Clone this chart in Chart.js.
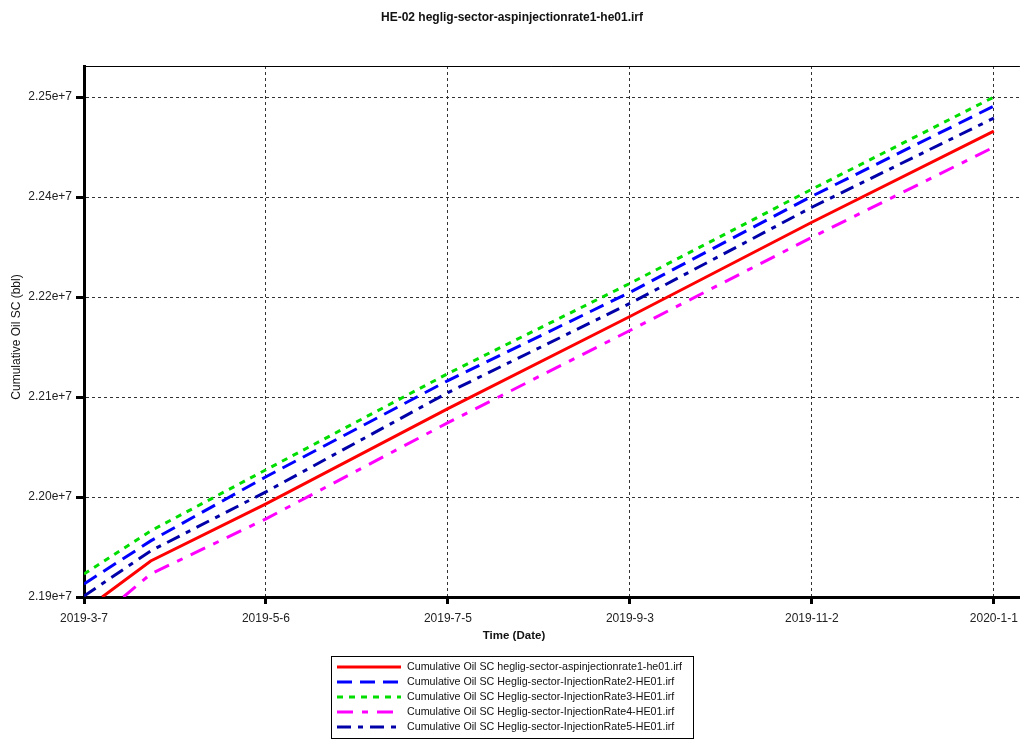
<!DOCTYPE html>
<html>
<head>
<meta charset="utf-8">
<script src="https://cdn.jsdelivr.net/npm/chart.js@4.4.1/dist/chart.umd.min.js"></script>
<style>
  html, body { margin: 0; padding: 0; background: #ffffff; }
  #wrap { width: 1025px; height: 740px; }
</style>
</head>
<body>
<div id="wrap"><canvas id="c" width="1025" height="740"></canvas></div>
<script>
// ---- data (x = days since 2019-3-7) ----
const chartTitle = 'HE-02 heglig-sector-aspinjectionrate1-he01.irf';
const xTitle = 'Time (Date)';
const yTitle = 'Cumulative Oil SC (bbl)';

const xTickDays = [0, 60, 120, 180, 240, 300];
const xTickLabels = ['2019-3-7', '2019-5-6', '2019-7-5', '2019-9-3', '2019-11-2', '2020-1-1'];

const yTickValues = [21900000, 22015000, 22130000, 22245000, 22360000, 22475000];
const yTickLabels = ['2.19e+7', '2.20e+7', '2.21e+7', '2.22e+7', '2.24e+7', '2.25e+7'];

const commonDays = [0, 22, 60, 120, 180, 240, 300];
const redDays = [6, 22, 60, 120, 180, 240, 300];
const magentaDays = [13, 22, 60, 120, 180, 240, 300];

const redValues     = [21900000, 21941480, 22007160, 22116630, 22222640, 22330960, 22435820];
const blueValues    = [21914980, 21964530, 22038280, 22148900, 22250300, 22360920, 22464630];
const greenValues   = [21926500, 21976050, 22046340, 22156960, 22260670, 22368990, 22475000];
const magentaValues = [21900000, 21926500, 21989880, 22100500, 22206510, 22313680, 22417380];
const navyValues    = [21901150, 21953010, 22020990, 22135070, 22237620, 22348250, 22450800];

const seriesLabels = [
  'Cumulative Oil SC heglig-sector-aspinjectionrate1-he01.irf',
  'Cumulative Oil SC Heglig-sector-InjectionRate2-HE01.irf',
  'Cumulative Oil SC Heglig-sector-InjectionRate3-HE01.irf',
  'Cumulative Oil SC Heglig-sector-InjectionRate4-HE01.irf',
  'Cumulative Oil SC Heglig-sector-InjectionRate5-HE01.irf'
];

function pts(days, vals) { return days.map((d, i) => ({ x: d, y: vals[i] })); }

const FONT = '"Liberation Sans", Arial, sans-serif';

const datasets = [
  { label: seriesLabels[0], data: pts(redDays, redValues), borderColor: '#ff0000', borderDash: [] },
  { label: seriesLabels[1], data: pts(commonDays, blueValues), borderColor: '#0000ff', borderDash: [15, 8] },
  { label: seriesLabels[2], data: pts(commonDays, greenValues), borderColor: '#00dd00', borderDash: [6, 6] },
  { label: seriesLabels[3], data: pts(magentaDays, magentaValues), borderColor: '#ff00ff', borderDash: [16, 9, 6, 9] },
  { label: seriesLabels[4], data: pts(commonDays, navyValues), borderColor: '#0000a8', borderDash: [14, 7, 5, 7] }
].map(d => Object.assign(d, { borderWidth: 3, pointRadius: 0, tension: 0, fill: false }));

const decor = {
  id: 'decor',
  afterDraw(chart) {
    const ctx = chart.ctx;
    const a = chart.chartArea;
    ctx.save();
    // thin frame top
    ctx.strokeStyle = '#000';
    ctx.lineWidth = 1;
    ctx.beginPath();
    ctx.moveTo(a.left, a.top + 0.5);
    ctx.lineTo(a.right, a.top + 0.5);
    ctx.stroke();
    // title
    ctx.fillStyle = '#111';
    ctx.font = 'bold 12px ' + FONT;
    ctx.textAlign = 'center';
    ctx.textBaseline = 'middle';
    ctx.fillText(chartTitle, 512, 18);
    // x title
    ctx.font = 'bold 11.5px ' + FONT;
    ctx.fillText(xTitle, 514, 636);
    // y title
    ctx.save();
    ctx.translate(17, 337);
    ctx.rotate(-Math.PI / 2);
    ctx.font = '12px ' + FONT;
    ctx.fillText(yTitle, 0, 0);
    ctx.restore();
    // legend
    ctx.strokeStyle = '#000';
    ctx.lineWidth = 1;
    ctx.strokeRect(331.5, 656.5, 362, 82);
    ctx.font = '10.7px ' + FONT;
    ctx.textAlign = 'left';
    chart.data.datasets.forEach((ds, i) => {
      const y = 667 + i * 15;
      ctx.beginPath();
      ctx.setLineDash(ds.borderDash || []);
      ctx.strokeStyle = ds.borderColor;
      ctx.lineWidth = 3;
      ctx.moveTo(337, y);
      ctx.lineTo(401, y);
      ctx.stroke();
      ctx.setLineDash([]);
      ctx.fillStyle = '#111';
      ctx.fillText(ds.label, 407, y);
    });
    ctx.restore();
  }
};

new Chart(document.getElementById('c'), {
  type: 'line',
  data: { datasets },
  options: {
    responsive: false,
    animation: false,
    layout: { padding: { left: 0, right: 5, top: 66, bottom: 98 } },
    plugins: { legend: { display: false }, title: { display: false }, tooltip: { enabled: false } },
    scales: {
      x: {
        type: 'linear',
        min: 0,
        max: 308.6,
        afterBuildTicks: s => { s.ticks = xTickDays.map(v => ({ value: v })); },
        afterFit: s => { s.height = 45; },
        ticks: {
          autoSkip: false, maxRotation: 0, padding: 7,
          color: '#222', font: { family: FONT, size: 12 },
          callback: (v) => { const i = xTickDays.indexOf(v); return i >= 0 ? xTickLabels[i] : ''; }
        },
        grid: { color: '#333', lineWidth: 1, drawTicks: true, tickLength: 7, tickWidth: 3, tickColor: '#000' },
        border: { display: true, color: '#000', width: 3, dash: [3, 3] }
      },
      y: {
        type: 'linear',
        min: 21900000,
        max: 22510700,
        afterBuildTicks: s => { s.ticks = yTickValues.map(v => ({ value: v })); },
        afterFit: s => { s.width = 84; },
        ticks: {
          autoSkip: false, padding: 4,
          color: '#222', font: { family: FONT, size: 12 },
          callback: (v) => { const i = yTickValues.indexOf(v); return i >= 0 ? yTickLabels[i] : ''; }
        },
        grid: { color: '#333', lineWidth: 1, drawTicks: true, tickLength: 8, tickWidth: 3, tickColor: '#000' },
        border: { display: true, color: '#000', width: 3, dash: [3, 3] }
      }
    }
  },
  plugins: [decor]
});
</script>
</body>
</html>
